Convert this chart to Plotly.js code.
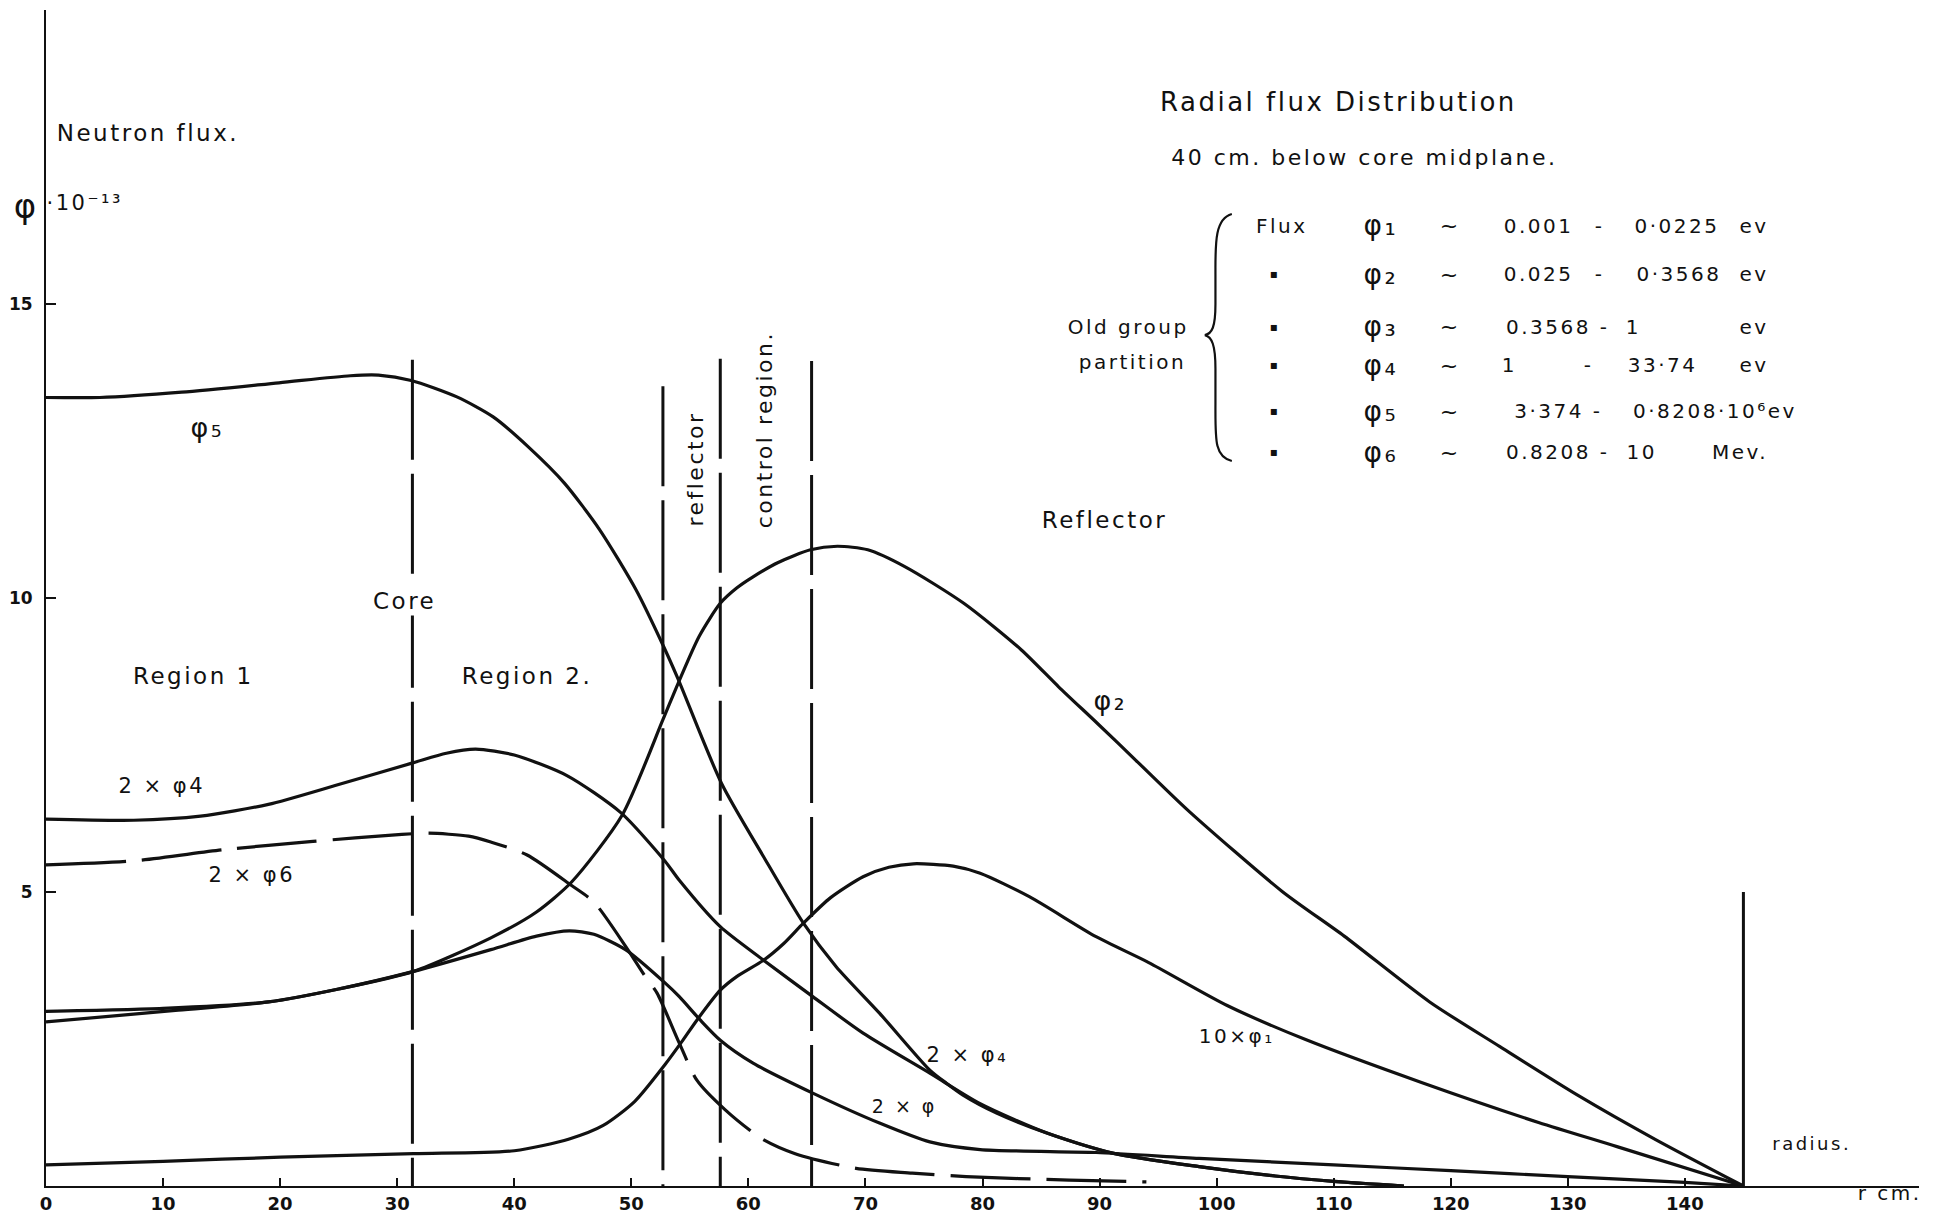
<!DOCTYPE html>
<html>
<head>
<meta charset="utf-8">
<script src="https://cdn.plot.ly/plotly-3.0.1.min.js"></script>
<style>
html,body{margin:0;padding:0;background:#fff;}
#chart{width:1952px;height:1214px;}
#chart .annotation-text{letter-spacing:2.5px;}
</style>
</head>
<body>
<div id="chart"></div>
<script>
// ---- data (r in cm, flux ×10^13) ----
const r_phi5 = [0, 4.6, 11.6, 19.9, 26.0, 28.4, 31.2, 35.1, 38.2, 41.2, 44.3, 47.3, 50.4, 52.7, 54.0, 57.7, 61.3, 64.7, 67.5, 71.2, 75.5, 76.9, 78.3, 81.2, 85.5, 91.1, 98.5, 105, 110, 116];
const phi5   = [13.41, 13.41, 13.50, 13.66, 13.78, 13.79, 13.70, 13.42, 13.08, 12.57, 11.95, 11.16, 10.14, 9.20, 8.62, 6.85, 5.60, 4.47, 3.73, 2.94, 1.97, 1.75, 1.55, 1.24, 0.90, 0.56, 0.33, 0.17, 0.08, 0.0];

const r_phi4x2 = [0, 7.5, 13.2, 19, 24.7, 31.4, 34.2, 36.7, 40, 44.5, 49.1, 52.9, 54.1, 57.6, 61.3, 65.5, 69.8, 75.5, 79.8, 85.5, 91.1, 98.5, 105, 110, 116];
const phi4x2   = [6.24, 6.22, 6.29, 6.49, 6.81, 7.20, 7.36, 7.43, 7.33, 6.98, 6.35, 5.52, 5.20, 4.41, 3.84, 3.22, 2.60, 1.92, 1.40, 0.90, 0.56, 0.33, 0.17, 0.08, 0.0];

const r_phi2 = [0, 11.3, 19, 25, 31.4, 38, 41.9, 44.9, 49.2, 52.7, 54.0, 55.8, 57.6, 59.0, 60.4, 62.5, 65.3, 67.6, 70.2, 73.4, 78.4, 83.3, 86.5, 89.8, 93.1, 97.6, 105.6, 110.9, 118.2, 124.2, 130.8, 137.5, 145];
const phi2   = [2.79, 2.99, 3.13, 3.35, 3.65, 4.22, 4.66, 5.17, 6.30, 7.93, 8.55, 9.35, 9.91, 10.17, 10.36, 10.60, 10.82, 10.88, 10.82, 10.53, 9.91, 9.12, 8.49, 7.87, 7.24, 6.38, 5.01, 4.25, 3.13, 2.37, 1.55, 0.79, 0.0];

const r_phi3x2 = [0, 10, 19, 25, 31.4, 38, 41.9, 44.7, 46.8, 49.5, 52.9, 54.1, 55.9, 57.6, 60.4, 65.5, 71.2, 75.5, 79.8, 89.7, 98.5, 110, 120, 130, 140, 145];
const phi3x2   = [2.97, 3.02, 3.13, 3.35, 3.65, 4.02, 4.25, 4.34, 4.28, 4.02, 3.45, 3.22, 2.82, 2.48, 2.09, 1.58, 1.07, 0.75, 0.62, 0.57, 0.47, 0.36, 0.26, 0.16, 0.06, 0.0];

const r_phi1x10 = [0, 10, 20, 31.4, 40, 44.7, 47.6, 50.3, 52.9, 54.3, 55.6, 57.6, 59, 61.3, 63, 64.7, 67, 69.8, 72, 74.1, 77.5, 79.8, 84.0, 89.7, 94.2, 100.9, 107.6, 117.5, 127.5, 134.2, 145];
const phi1x10   = [0.36, 0.42, 0.49, 0.55, 0.60, 0.80, 1.03, 1.44, 2.07, 2.45, 2.82, 3.33, 3.56, 3.84, 4.12, 4.47, 4.90, 5.26, 5.42, 5.48, 5.44, 5.32, 4.92, 4.24, 3.80, 3.07, 2.49, 1.76, 1.08, 0.67, 0.0];

const r_phi6x2 = [0, 7.5, 15.2, 22.8, 30.4, 32.7, 36.1, 38, 41.1, 44.9, 46.8, 49.5, 51.2, 52.2, 54.1, 55.6, 58, 61.1, 64, 69.2, 74, 78.6, 87.4, 94];
const phi6x2   = [5.46, 5.53, 5.72, 5.86, 5.98, 6.00, 5.95, 5.85, 5.63, 5.11, 4.83, 4.08, 3.56, 3.28, 2.43, 1.80, 1.30, 0.81, 0.55, 0.30, 0.22, 0.16, 0.10, 0.07];

// region boundaries (r, cm) and the height the drawn line reaches
const boundaryR   = [31.3, 52.7, 57.6, 65.4];
const boundaryTop = [14.05, 13.6, 14.07, 14.03];
const radiusR = [145];
const radiusTop = [5];

// tick labels
const xTicks = [0, 10, 20, 30, 40, 50, 60, 70, 80, 90, 100, 110, 120, 130, 140];
const yTicks = [5, 10, 15];

// group partition table
const groupHead    = ['Flux', '▪', '▪', '▪', '▪', '▪'];
const groupSymbols = ['φ₁', 'φ₂', 'φ₃', 'φ₄', 'φ₅', 'φ₆'];
const groupLow  = ['0.001', '0.025', '0.3568 -', '1', '3·374 -', '0.8208 -'];
const groupDash = ['-', '-', '', '-', '', ''];
const groupHigh = ['0·0225', '0·3568', '1', '33·74', '0·8208·10⁶ev', '10'];
const groupUnit = ['ev', 'ev', 'ev', 'ev', '', 'Mev.'];

// ---- drawing ----
const FONT = 'DejaVu Sans, sans-serif';
const black = '#111';
const curve = (x, y, dash) => ({
  type: 'scatter', mode: 'lines', x: x, y: y, hoverinfo: 'skip',
  line: {color: black, width: 3.2, shape: 'spline', smoothing: 0.7, dash: dash || 'solid'}
});

const traces = [
  curve(r_phi5, phi5),
  curve(r_phi4x2, phi4x2),
  curve(r_phi2, phi2),
  curve(r_phi3x2, phi3x2),
  curve(r_phi1x10, phi1x10),
  curve(r_phi6x2, phi6x2, '80px,16px')
];
boundaryR.forEach((r, i) => {
  traces.push({type: 'scatter', mode: 'lines', x: [r, r], y: [boundaryTop[i], 0], hoverinfo: 'skip',
    line: {color: black, width: 3, dash: '100px,14px'}});
});
radiusR.forEach((r, i) => {
  traces.push({type: 'scatter', mode: 'lines', x: [r, r], y: [0, radiusTop[i]], hoverinfo: 'skip',
    line: {color: black, width: 3}});
});

const ann = [];
const txt = (x, y, text, size, opts) => ann.push(Object.assign({
  x: x, y: y, xref: 'x', yref: 'y', text: text, showarrow: false,
  font: {family: FONT, size: size, color: black}, xanchor: 'center', yanchor: 'middle'
}, opts || {}));
const ptxt = (x, y, text, size, opts) => txt(x, y, text, size, Object.assign({xref: 'paper', yref: 'paper'}, opts || {}));

txt(8.75, 17.9, 'Neutron flux.', 23);
ptxt(-0.0105, 0.833, 'φ', 34);
txt(3.3, 16.72, '·10⁻¹³', 21);
ptxt(0.984, -0.006, 'r cm.', 20);
txt(150.8, 0.72, 'radius.', 18);

txt(12.6, 8.67, 'Region 1', 23);
txt(30.6, 9.95, 'Core', 23, {bgcolor: '#fff'});
txt(41.1, 8.67, 'Region 2.', 23);
txt(13.8, 12.9, 'φ₅', 27);
txt(9.9, 6.8, '2 × φ4', 21);
txt(17.6, 5.29, '2 × φ6', 21);
txt(55.5, 12.2, 'reflector', 22, {textangle: -90});
txt(61.4, 12.86, 'control region.', 22, {textangle: -90});
txt(90.4, 11.33, 'Reflector', 23);
txt(90.9, 8.25, 'φ₂', 27);
txt(78.7, 2.22, '2 × φ₄', 21);
txt(73.3, 1.36, '2 × φ', 19);
txt(101.7, 2.55, '10×φ₁', 20);

txt(110.4, 18.43, 'Radial flux Distribution', 26);
txt(112.6, 17.5, '40 cm. below core midplane.', 22);
txt(92.4, 14.61, 'Old group', 20);
txt(92.8, 14.01, 'partition', 20);

const rowY    = [16.33, 15.51, 14.61, 13.96, 13.18, 12.48];
const lowX    = [127.5, 127.5, 129.2, 125.0, 129.2, 129.2];
const dashX   = [132.7, 132.7, 0, 131.8, 0, 0];
const highX   = [139.3, 139.5, 135.6, 138.1, 142.6, 136.3];
const unitX   = [145.9, 145.9, 145.9, 145.9, 0, 144.7];
rowY.forEach((y, i) => {
  if (i === 0) txt(105.6, y, groupHead[i], 20);
  else txt(105.0, y, groupHead[i], 12);
  txt(114.0, y, groupSymbols[i], 28);
  txt(119.9, y, '~', 22);
  txt(lowX[i], y, groupLow[i], 20);
  if (groupDash[i]) txt(dashX[i], y, groupDash[i], 20);
  txt(highX[i], y, groupHigh[i], 20);
  if (groupUnit[i]) txt(unitX[i], y, groupUnit[i], 20);
});

const layout = {
  width: 1952, height: 1214,
  margin: {l: 46, r: 33, t: 10, b: 28},
  paper_bgcolor: '#fff', plot_bgcolor: '#fff',
  showlegend: false,
  xaxis: {range: [0, 160], showgrid: false, zeroline: false, showline: true, linecolor: black, linewidth: 2,
    tickvals: xTicks, ticktext: xTicks.map(String), ticks: 'inside', ticklen: 8, tickwidth: 2, tickcolor: black,
    tickfont: {family: FONT, size: 18, color: black, weight: 'bold'}, fixedrange: true},
  yaxis: {range: [0, 20], showgrid: false, zeroline: false, showline: true, linecolor: black, linewidth: 2,
    tickvals: yTicks, ticktext: yTicks.map(String), ticks: 'inside', ticklen: 10, tickwidth: 2, tickcolor: black,
    ticklabelstandoff: 8,
    tickfont: {family: FONT, size: 17, color: black, weight: 'bold'}, fixedrange: true},
  shapes: [{
    type: 'path', xref: 'x', yref: 'y',
    path: 'M 101.3 16.53 C 99.8 16.45 99.9 16.0 99.9 15.5 L 99.9 15.0 C 99.9 14.6 99.6 14.5 99.0 14.47 C 99.6 14.44 99.9 14.3 99.9 13.9 L 99.9 13.3 C 99.9 12.7 99.8 12.4 101.3 12.33',
    line: {color: black, width: 2.2}
  }],
  annotations: ann
};

Plotly.newPlot('chart', traces, layout, {staticPlot: true, displayModeBar: false});
</script>
</body>
</html>
